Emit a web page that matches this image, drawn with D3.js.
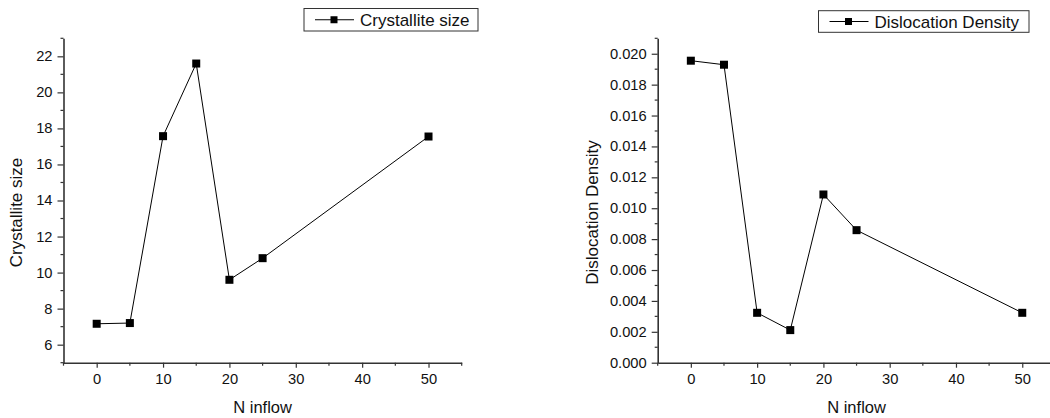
<!DOCTYPE html>
<html>
<head>
<meta charset="utf-8">
<script src="https://cdn.jsdelivr.net/npm/d3@7"></script>
<style>
  body { margin: 0; background: #fff; }
  svg { display: block; font-family: "Liberation Sans", Arial, sans-serif; }
  .xlab { transform: scaleX(1.05); transform-box: fill-box; transform-origin: center; }
  .ylab { transform: scaleX(1.05); transform-box: fill-box; transform-origin: right center; }
</style>
</head>
<body>
<svg id="chart" width="1050" height="418"></svg>
<script>
// N inflow values shared by both panels
let inflow = [0, 5, 10, 15, 20, 25, 50]
let crystalliteSize = [7.16, 7.2, 17.57, 21.6, 9.6, 10.8, 17.55]
let dislocationDensity = [0.01955, 0.01929, 0.00323, 0.00211, 0.01089, 0.00858, 0.00323]

let xTicks = [0, 10, 20, 30, 40, 50]
let sizeTicks = [6, 8, 10, 12, 14, 16, 18, 20, 22]
let densityTicks = [0, 0.002, 0.004, 0.006, 0.008, 0.010, 0.012, 0.014, 0.016, 0.018, 0.020]

let svg = d3.select("#chart")

let panels = [
    {
        left: 63.5, right: 461.7, top: 38.3, bottom: 362.7,
        yDomain: [5, 23], yTicks: sizeTicks, yMinor: 1, yFormat: d3.format("d"),
        values: crystalliteSize, title: "Crystallite size", titleX: 21.5,
        legend: {x: 304, y: 8.5, w: 174, h: 22.5}
    },
    {
        left: 657.7, right: 1055.4, top: 38.3, bottom: 362.7,
        yDomain: [0, 0.021], yTicks: densityTicks, yMinor: 0.001, yFormat: d3.format(".3f"),
        values: dislocationDensity, title: "Dislocation Density", titleX: 598,
        legend: {x: 818.5, y: 10.7, w: 210.5, h: 21.6}
    }
]

panels.forEach(p => drawPanel(p))

function drawPanel(p) {
    let X = d3.scaleLinear().domain([-5, 55]).range([p.left, p.right])
    let Y = d3.scaleLinear().domain(p.yDomain).range([p.bottom, p.top])

    // minor ticks
    let xMinor = d3.range(-5, 56, 5).filter(d => xTicks.indexOf(d) < 0)
    let yMinor = d3.range(p.yDomain[0], p.yDomain[1] + 1e-9, p.yMinor)
        .filter(d => !p.yTicks.some(t => Math.abs(t - d) < 1e-9))

    let xaxis = svg.append("g")
        .attr("transform", "translate(0," + p.bottom + ")")
        .call(d3.axisBottom(X).tickValues(xTicks).tickSize(5).tickSizeOuter(0).tickPadding(6.5))
    xaxis.selectAll(".tick text").attr("class", "xlab")
    xaxis.append("g").selectAll("line").data(xMinor).enter().append("line")
        .attr("x1", d => X(d)).attr("x2", d => X(d))
        .attr("y1", 0).attr("y2", 3)
        .attr("stroke", "#333").attr("stroke-width", 1.2)

    let yaxis = svg.append("g")
        .attr("transform", "translate(" + p.left + ",0)")
        .call(d3.axisLeft(Y).tickValues(p.yTicks).tickFormat(p.yFormat).tickSize(6).tickSizeOuter(0).tickPadding(5))
    yaxis.selectAll(".tick text").attr("class", "ylab")
    yaxis.append("g").selectAll("line").data(yMinor).enter().append("line")
        .attr("y1", d => Y(d)).attr("y2", d => Y(d))
        .attr("x1", 0).attr("x2", -3)
        .attr("stroke", "#333").attr("stroke-width", 1.2)

    svg.selectAll(".domain").attr("stroke", "#333").attr("stroke-width", 1.6)
    svg.selectAll(".tick line").attr("stroke", "#333").attr("stroke-width", 1.2)
    svg.selectAll(".tick text")
       .attr("font-family", "Liberation Sans, Arial, sans-serif")
       .attr("font-size", 14).attr("fill", "#111")

    // axis titles
    svg.append("text")
       .attr("x", (p.left + p.right) / 2)
       .attr("y", 413.3)
       .attr("text-anchor", "middle")
       .attr("font-size", 16.5).attr("fill", "#111")
       .text("N inflow")

    svg.append("text")
       .attr("transform", "translate(" + p.titleX + ",212.5) rotate(-90)")
       .attr("text-anchor", "middle")
       .attr("font-size", 17).attr("fill", "#111")
       .text(p.title)

    // series line + markers
    let pts = inflow.map((d, i) => [d, p.values[i]])
    let line = d3.line().x(d => X(d[0])).y(d => Y(d[1]))
    svg.append("path")
       .attr("d", line(pts))
       .attr("fill", "none")
       .attr("stroke", "#000")
       .attr("stroke-width", 1)
    svg.append("g").selectAll("rect").data(pts).enter().append("rect")
       .attr("x", d => X(d[0]) - 4)
       .attr("y", d => Y(d[1]) - 4)
       .attr("width", 8).attr("height", 8)
       .attr("fill", "#000")

    // legend
    let L = p.legend
    let lg = svg.append("g")
    lg.append("rect")
      .attr("x", L.x).attr("y", L.y).attr("width", L.w).attr("height", L.h)
      .attr("fill", "#fff").attr("stroke", "#333").attr("stroke-width", 1)
    let cy = L.y + L.h / 2
    lg.append("line")
      .attr("x1", L.x + 11).attr("x2", L.x + 50)
      .attr("y1", cy).attr("y2", cy)
      .attr("stroke", "#000").attr("stroke-width", 1)
    lg.append("rect")
      .attr("x", L.x + 30 - 3.5).attr("y", cy - 3.5)
      .attr("width", 7).attr("height", 7).attr("fill", "#000")
    lg.append("text")
      .attr("x", L.x + 56).attr("y", cy).attr("dy", "0.36em")
      .attr("font-size", 17).attr("fill", "#111")
      .text(p.title)
}
</script>
</body>
</html>
